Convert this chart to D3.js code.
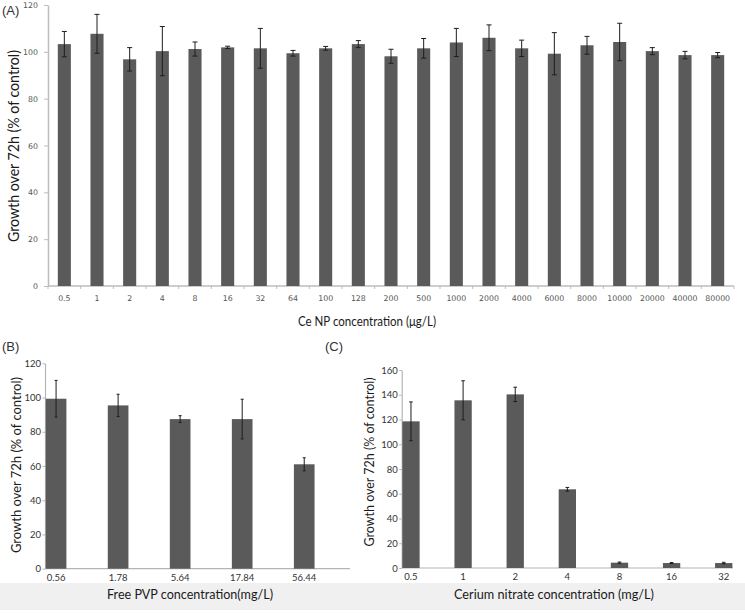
<!DOCTYPE html>
<html><head><meta charset="utf-8">
<script src="https://cdn.jsdelivr.net/npm/d3@7"></script>
<style>body{margin:0;background:#fff}svg{display:block}</style>
</head><body>
<svg id="chart" width="745" height="613"></svg>
<script>
// ---------- DATA ----------
const catsA = ["0.5","1","2","4","8","16","32","64","100","128","200","500","1000","2000","4000","6000","8000","10000","20000","40000","80000"];
const valsA = [103.3,107.7,96.8,100.3,101.2,101.9,101.5,99.4,101.5,103.3,98.1,101.5,104.0,106.0,101.5,99.2,102.8,104.2,100.3,98.6,98.6];
const errA  = [5.4,8.3,5.0,10.5,3.0,0.5,8.5,1.2,0.8,1.5,3.0,4.2,6.0,5.5,3.5,9.0,3.8,8.0,1.5,1.6,1.1];
const ticksA = [0,20,40,60,80,100,120];

const catsB = ["0.56","1.78","5.64","17.84","56.44"];
const valsB = [99.3,95.4,87.4,87.4,61.0];
const errB  = [10.7,6.5,2.0,11.6,3.8];
const ticksB = [0,20,40,60,80,100,120];

const catsC = ["0.5","1","2","4","8","16","32"];
const valsC = [118.5,135.5,140.3,63.6,4.3,4.0,4.0];
const errC  = [15.7,15.8,5.8,1.5,0.5,0.4,0.6];
const ticksC = [0,20,40,60,80,100,120,140,160];

// ---------- DRAW ----------
const svg = d3.select("#chart");
svg.append("rect").attr("x",0).attr("y",583).attr("width",745).attr("height",27).attr("fill","#f0f0f0");

function panel(o){
  const x = d3.scaleBand().domain(o.cats).range(o.xr).paddingInner(o.pi).paddingOuter(o.po);
  const y = d3.scaleLinear().domain([0,o.ymax]).range(o.yr);
  const g = svg.append("g");

  // y axis
  const ya = g.append("g").attr("transform",`translate(${o.axisX},0)`)
    .call(d3.axisLeft(y).tickValues(o.yticks).tickSize(o.ytick).tickSizeOuter(0).tickPadding(o.ypad));
  ya.select(".domain").attr("stroke",o.axisColor).attr("stroke-width",o.axisW);
  ya.selectAll(".tick line").attr("stroke",o.axisColor);
  ya.selectAll(".tick text").attr("font-family",o.tickFont).attr("font-size",o.tickSize).attr("fill",o.tickColor);

  // x axis
  const xa = g.append("g").attr("transform",`translate(0,${y(0)})`)
    .call(d3.axisBottom(x).tickSize(0).tickPadding(o.xpad));
  xa.select(".domain").remove();
  xa.selectAll(".tick text").attr("font-family",o.tickFont).attr("font-size",o.tickSize).attr("fill",o.tickColor);
  g.append("line").attr("x1",o.axisX).attr("x2",o.axisEnd).attr("y1",y(0)).attr("y2",y(0))
    .attr("stroke",o.axisColor).attr("stroke-width",o.axisW);
  if(o.minor){
    const gap = (x.step()-x.bandwidth())/2;
    const bounds = o.cats.map(c=>x(c)-gap).concat([x(o.cats[o.cats.length-1])+x.bandwidth()+gap]);
    g.selectAll("line.minor").data(bounds).join("line").attr("class","minor")
      .attr("x1",d=>d).attr("x2",d=>d).attr("y1",y(0)).attr("y2",y(0)+3)
      .attr("stroke",o.axisColor);
  }

  // bars
  g.selectAll("rect.bar").data(o.cats).join("rect").attr("class","bar")
    .attr("x",d=>x(d)).attr("width",x.bandwidth())
    .attr("y",(d,i)=>y(o.vals[i])).attr("height",(d,i)=>y(0)-y(o.vals[i]))
    .attr("fill","#5a5a5a");

  // error bars
  const eg = g.append("g").attr("stroke","#1e1e1e").attr("stroke-width",1);
  o.cats.forEach((c,i)=>{
    const cx = x(c)+x.bandwidth()/2;
    const lo = y(o.vals[i]-o.errs[i]), hi = y(o.vals[i]+o.errs[i]);
    eg.append("line").attr("x1",cx).attr("x2",cx).attr("y1",lo).attr("y2",hi);
    eg.append("line").attr("x1",cx-o.cap).attr("x2",cx+o.cap).attr("y1",lo).attr("y2",lo);
    eg.append("line").attr("x1",cx-o.cap).attr("x2",cx+o.cap).attr("y1",hi).attr("y2",hi);
  });
}

panel({cats:catsA, vals:valsA, errs:errA, ymax:120, yticks:ticksA,
  xr:[48,734], pi:0.6, po:0.3, yr:[286,5], axisX:48, axisEnd:734,
  ytick:4, ypad:6, xpad:9.5, axisColor:"#bdbdbd", axisW:1.5,
  tickFont:"DejaVu Sans", tickSize:"7.8px", tickColor:"#555", minor:true, cap:2.5});

panel({cats:catsB, vals:valsB, errs:errB, ymax:120, yticks:ticksB,
  xr:[45,315.3], pi:0.667, po:0.012, yr:[568.7,363.3], axisX:45, axisEnd:350,
  ytick:2.5, ypad:1.5, xpad:5.6, axisColor:"#b5b5b5", axisW:1.2,
  tickFont:"Lato", tickSize:"9.5px", tickColor:"#333", minor:false, cap:1.5});

panel({cats:catsC, vals:valsC, errs:errC, ymax:160, yticks:ticksC,
  xr:[401.7,733], pi:0.668, po:0.012, yr:[568,370], axisX:401.7, axisEnd:733,
  ytick:2.5, ypad:1.5, xpad:5, axisColor:"#b5b5b5", axisW:1.2,
  tickFont:"Lato", tickSize:"9.5px", tickColor:"#333", minor:false, cap:1.8});

// ---------- TEXT ----------
function label(txt, x, y, size, len, rot){
  const t = svg.append("text").text(txt)
    .attr("font-family","Lato").attr("font-size",size).attr("fill","#1a1a1a")
    .attr("text-anchor","middle").attr("textLength",len).attr("lengthAdjust","spacingAndGlyphs");
  if(rot) t.attr("transform",`translate(${x},${y}) rotate(-90)`);
  else t.attr("x",x).attr("y",y);
}
label("Growth over 72h (% of control)", 18.5, 146, "15.5px", 192, true);
label("Ce NP concentration (μg/L)", 367, 326, "13px", 138, false);
label("Growth over 72h (% of control)", 21, 465, "13.5px", 176, true);
label("Free PVP concentration(mg/L)", 190, 599, "13px", 166, false);
label("Growth over 72h (% of control)", 373.5, 462, "13px", 169, true);
label("Cerium nitrate concentration (mg/L)", 554, 599, "13px", 200, false);

[["(A)",2,15],["(B)",2,351],["(C)",325,351]].forEach(d=>{
  svg.append("text").text(d[0]).attr("x",d[1]).attr("y",d[2])
    .attr("font-family","Liberation Sans").attr("font-size","13px").attr("fill","#333");
});
</script>
</body></html>
